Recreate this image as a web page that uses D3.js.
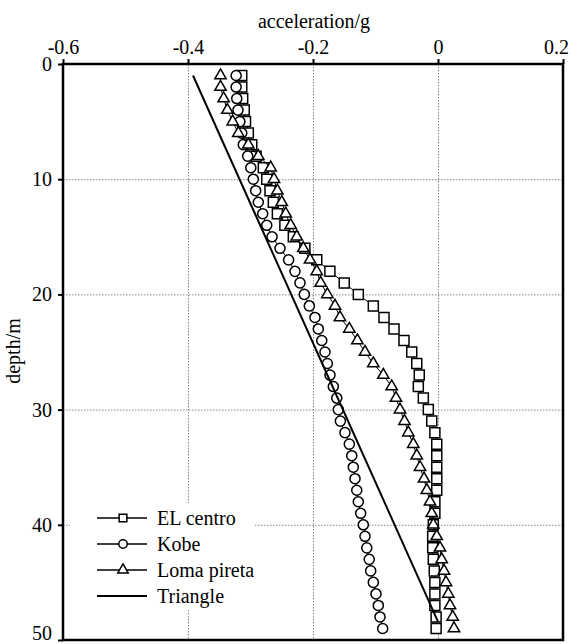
<!DOCTYPE html>
<html lang="en">
  <head>
    <title>Acceleration vs depth</title>
    <script src="https://d3js.org/d3.v7.min.js"></script>
    <style>
      body {
        margin: 0;
        background: #fff;
      }

      text {
        font-family: "Liberation Serif", "Times New Roman", Times, serif;
        font-size: 20px;
        fill: #000;
      }

      .gridlines line {
        stroke: #888;
        stroke-width: 1;
        stroke-dasharray: 1.5, 1.5;
      }

      .gridlines .domain {
        stroke: none;
      }
    </style>
  </head>

  <body>
    <svg id="chart" width="572" height="644"></svg>

    <script>
      // depth of each marker row (m)
      const depths = [
        1, 2, 3, 4, 5, 6, 7, 8, 9, 10, 11, 12, 13, 14, 15, 16, 17, 18, 19, 20,
        21, 22, 23, 24, 25, 26, 27, 28, 29, 30, 31, 32, 33, 34, 35, 36, 37, 38,
        39, 40, 41, 42, 43, 44, 45, 46, 47, 48, 49,
      ];

      const elCentro = [
        -0.314, -0.314, -0.3125, -0.31, -0.308, -0.3035, -0.298, -0.291,
        -0.2795, -0.274, -0.2688, -0.2635, -0.257, -0.245, -0.2315, -0.213,
        -0.194, -0.173, -0.15, -0.1275, -0.1035, -0.0864, -0.0704, -0.0544,
        -0.042, -0.034, -0.03, -0.0315, -0.0235, -0.0155, -0.01, -0.005,
        -0.002, -0.002, -0.002, -0.002, -0.002, -0.005, -0.005, -0.0075,
        -0.0085, -0.0085, -0.0075, -0.006, -0.005, -0.005, -0.005, -0.003,
        -0.003,
      ];

      const kobe = [
        -0.323, -0.323, -0.322, -0.32, -0.317, -0.314, -0.3115, -0.3045,
        -0.2995, -0.2955, -0.2917, -0.2875, -0.2805, -0.274, -0.2655, -0.2528,
        -0.239, -0.2288, -0.2208, -0.2139, -0.2059, -0.1968, -0.1915, -0.186,
        -0.1808, -0.177, -0.1728, -0.1675, -0.162, -0.1595, -0.1562, -0.1488,
        -0.1419, -0.138, -0.1355, -0.1328, -0.13, -0.1275, -0.1237, -0.1195,
        -0.1168, -0.114, -0.11, -0.1077, -0.1035, -0.0992, -0.0955, -0.0928,
        -0.0885,
      ];

      const lomaPrieta = [
        -0.348, -0.348, -0.343, -0.337, -0.3285, -0.3195, -0.3035, -0.2875,
        -0.2677, -0.2624, -0.257, -0.25, -0.2437, -0.2357, -0.226, -0.2155,
        -0.2048, -0.194, -0.1877, -0.177, -0.1648, -0.1568, -0.1419, -0.129,
        -0.1168, -0.1035, -0.0875, -0.0741, -0.0672, -0.0608, -0.0536,
        -0.0475, -0.0395, -0.034, -0.0288, -0.0224, -0.018, -0.0128, -0.01,
        -0.0075, -0.002, 0.0032, 0.0059, 0.0096, 0.0128, 0.0165, 0.0192,
        0.0235, 0.0256,
      ];

      // straight "Triangle" profile, two end points
      const triangleDepth = [1, 48.4];
      const triangleAcc = [-0.392, 0];

      const xTicks = [-0.6, -0.4, -0.2, 0, 0.2];
      const yTicks = [0, 10, 20, 30, 40, 50];
      const xGrid = [-0.4, -0.2, 0];
      const yGrid = [10, 20, 30, 40];

      const seriesNames = ["EL centro", "Kobe", "Loma pireta", "Triangle"];

      const svg = d3.select("svg#chart");
      const margin = { top: 64, right: 9, bottom: 4, left: 63 };
      const width = +svg.attr("width");
      const height = +svg.attr("height");
      const chartWidth = width - margin.left - margin.right;
      const chartHeight = height - margin.top - margin.bottom;

      const chartArea = svg
        .append("g")
        .attr("transform", `translate(${margin.left},${margin.top})`);

      const xScale = d3.scaleLinear().domain([-0.6, 0.2]).range([0, chartWidth]);
      const yScale = d3.scaleLinear().domain([0, 50]).range([0, chartHeight]);

      const fmt = (d) => (d === 0 ? "0" : d3.format(".1f")(d).replace("−", "-"));

      // gridlines
      chartArea
        .append("g")
        .attr("class", "gridlines")
        .call(d3.axisTop(xScale).tickValues(xGrid).tickSize(-chartHeight).tickFormat(""));
      chartArea
        .append("g")
        .attr("class", "gridlines")
        .call(d3.axisLeft(yScale).tickValues(yGrid).tickSize(-chartWidth).tickFormat(""));

      // axes
      const xAxis = chartArea
        .append("g")
        .call(d3.axisTop(xScale).tickValues(xTicks).tickSize(5).tickPadding(5.5).tickFormat(fmt));
      const yAxis = chartArea
        .append("g")
        .call(d3.axisLeft(yScale).tickValues(yTicks).tickSize(5).tickPadding(6).tickFormat((d) => d));

      [xAxis, yAxis].forEach((ax) => {
        ax.select(".domain").remove();
        ax.selectAll(".tick line").attr("stroke", "#000").attr("stroke-width", 2);
        ax.selectAll(".tick text")
          .style("font-family", '"Liberation Serif", "Times New Roman", serif')
          .style("font-size", "20px");
      });

      // last labels sit a little inside the picture edge
      xAxis.selectAll(".tick text").filter((d) => d === 0.2).attr("dx", -7);
      yAxis.selectAll(".tick text").filter((d) => d === 50).attr("dy", "-0.05em");

      // frame
      chartArea
        .append("rect")
        .attr("x", 0)
        .attr("y", 0)
        .attr("width", chartWidth)
        .attr("height", chartHeight)
        .attr("fill", "none")
        .attr("stroke", "#000")
        .attr("stroke-width", 2.5);

      // labels
      svg
        .append("text")
        .attr("x", margin.left + chartWidth / 2 + 1)
        .attr("y", 28)
        .attr("text-anchor", "middle")
        .text("acceleration/g");

      svg
        .append("text")
        .attr("transform", `translate(19.5,${margin.top + chartHeight / 2 - 1}) rotate(-90)`)
        .attr("text-anchor", "middle")
        .text("depth/m");

      // series
      const series = [
        { name: seriesNames[0], values: elCentro, symbol: d3.symbolSquare, size: 100 },
        { name: seriesNames[1], values: kobe, symbol: d3.symbolCircle, size: 80 },
        { name: seriesNames[2], values: lomaPrieta, symbol: d3.symbolTriangle, size: 56 },
      ];

      const line = d3
        .line()
        .x((d) => xScale(d[0]))
        .y((d) => yScale(d[1]));

      series.forEach((s) => {
        const pts = s.values.map((v, i) => [v, depths[i]]);
        chartArea
          .append("path")
          .attr("d", line(pts))
          .attr("fill", "none")
          .attr("stroke", "#000")
          .attr("stroke-width", 1);

        chartArea
          .selectAll(null)
          .data(pts)
          .enter()
          .append("path")
          .attr("d", d3.symbol().type(s.symbol).size(s.size))
          .attr("transform", (d) => `translate(${xScale(d[0])},${yScale(d[1])})`)
          .attr("fill", "#fff")
          .attr("stroke", "#000")
          .attr("stroke-width", 1.5);
      });

      chartArea
        .append("path")
        .attr("d", line(triangleAcc.map((v, i) => [v, triangleDepth[i]])))
        .attr("fill", "none")
        .attr("stroke", "#000")
        .attr("stroke-width", 2);

      // legend
      const legend = svg.append("g").attr("transform", "translate(70,503)");
      legend
        .append("rect")
        .attr("width", 185)
        .attr("height", 106)
        .attr("fill", "#fff");

      const legendSymbols = [
        { type: d3.symbolSquare, size: 60 },
        { type: d3.symbolCircle, size: 56 },
        { type: d3.symbolTriangle, size: 48 },
        null,
      ];

      seriesNames.forEach((name, i) => {
        const yPos = 15 + i * 26;
        legend
          .append("line")
          .attr("x1", 27)
          .attr("x2", 77)
          .attr("y1", yPos)
          .attr("y2", yPos)
          .attr("stroke", "#000")
          .attr("stroke-width", i === 3 ? 2 : 1.5);

        if (legendSymbols[i]) {
          legend
            .append("path")
            .attr("d", d3.symbol().type(legendSymbols[i].type).size(legendSymbols[i].size))
            .attr("transform", `translate(53,${yPos})`)
            .attr("fill", "#fff")
            .attr("stroke", "#000")
            .attr("stroke-width", 1.5);
        }

        legend
          .append("text")
          .attr("x", 87)
          .attr("y", yPos)
          .attr("dy", "0.35em")
          .text(name);
      });
    </script>
  </body>
</html>
